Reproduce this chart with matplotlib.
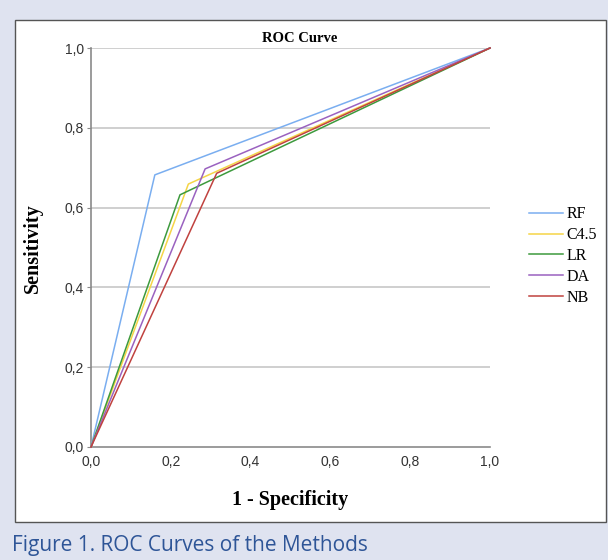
import matplotlib
matplotlib.use("Agg")
import matplotlib.pyplot as plt
from matplotlib.patches import Rectangle

# ---- data ----
methods = ["RF", "C4.5", "LR", "DA", "NB"]
fpr = {
    "RF":   [0.0, 0.16, 1.0],
    "C4.5": [0.0, 0.244, 1.0],
    "LR":   [0.0, 0.223, 1.0],
    "DA":   [0.0, 0.286, 1.0],
    "NB":   [0.0, 0.315, 1.0],
}
tpr = {
    "RF":   [0.0, 0.682, 1.0],
    "C4.5": [0.0, 0.659, 1.0],
    "LR":   [0.0, 0.632, 1.0],
    "DA":   [0.0, 0.697, 1.0],
    "NB":   [0.0, 0.686, 1.0],
}
colors = {"RF": "#7aaef0", "C4.5": "#f5d547", "LR": "#3d9a3d",
          "DA": "#9a62c0", "NB": "#c0423f"}
tick_vals = [0.0, 0.2, 0.4, 0.6, 0.8, 1.0]
tick_labels = ["0,0", "0,2", "0,4", "0,6", "0,8", "1,0"]

W, H = 608, 560
fig = plt.figure(figsize=(W / 100, H / 100), dpi=100)
fig.patch.set_facecolor("#dfe3f0")

# white panel
panel = Rectangle((15 / W, 1 - 522 / H), 591 / W, 502 / H,
                  transform=fig.transFigure, facecolor="white",
                  edgecolor="#555555", linewidth=1.0, zorder=-10)
fig.patches.append(panel)

ax = fig.add_axes([91 / W, 1 - 447 / H, 399 / W, 399 / H])
ax.set_zorder(5)
ax.set_facecolor("none")
ax.set_xlim(0, 1)
ax.set_ylim(0, 1)
for s in ["top", "right"]:
    ax.spines[s].set_visible(False)
for s in ["left", "bottom"]:
    ax.spines[s].set_color("#8a8a8a")
    ax.spines[s].set_linewidth(1.2)

for v in tick_vals[1:]:
    ax.axhline(v, color="#cccccc", linewidth=1.3, zorder=1)

for m in methods:
    ax.plot(fpr[m], tpr[m], color=colors[m], linewidth=1.1, label=m,
            clip_on=False, zorder=3)

ax.set_xticks(tick_vals)
ax.set_xticklabels(tick_labels)
ax.set_yticks(tick_vals)
ax.set_yticklabels(tick_labels)
ax.tick_params(axis="y", length=3, color="#8a8a8a", pad=2,
               labelsize=10, labelcolor="#333333")
ax.tick_params(axis="x", length=0, pad=6,
               labelsize=10, labelcolor="#333333")
for lab in ax.get_xticklabels() + ax.get_yticklabels():
    lab.set_fontfamily("Liberation Sans")

fig.text(300 / W, 1 - 38 / H, "ROC Curve", ha="center", va="center",
         family="Liberation Serif", fontweight="bold", fontsize=10.5)
fig.text(33 / W, 1 - 248 / H, "Sensitivity", ha="center", va="center",
         rotation=90, family="Liberation Serif", fontweight="bold", fontsize=14.5)
fig.text(290 / W, 1 - 500 / H, "1 - Specificity", ha="center", va="center",
         family="Liberation Serif", fontweight="bold", fontsize=14.5)

leg = fig.legend(loc="center left", bbox_to_anchor=(529 / W, 1 - 256 / H),
                 frameon=False, prop={"family": "Liberation Serif", "size": 11.5},
                 handlelength=2.1, handletextpad=0.25, labelspacing=0.3,
                 borderpad=0, borderaxespad=0)

fig.text(12 / W, 1 - 546 / H, "Figure 1. ROC Curves of the Methods",
         ha="left", va="center", family="Open Sans", fontsize=15,
         color="#2e5597")

fig.savefig("out.png", dpi=100, facecolor=fig.get_facecolor())
